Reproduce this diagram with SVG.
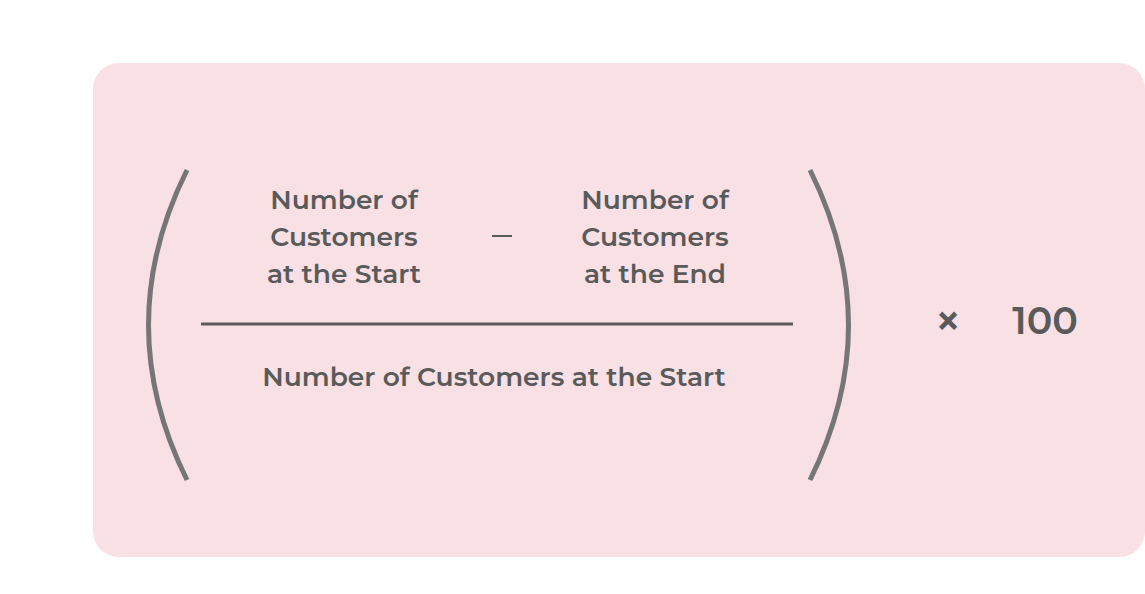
<svg xmlns="http://www.w3.org/2000/svg" width="1145" height="594" viewBox="0 0 1145 594">
<style>
text{font-family:"Montserrat","Inter","Liberation Sans",sans-serif;font-weight:600;fill:#5a5a5a;font-size:26.5px;text-anchor:middle}
.p{fill:none;stroke:#767676;stroke-width:5}
</style>
<rect width="1145" height="594" fill="#fff"/>
<rect x="93" y="63" width="1052" height="494" rx="26" fill="#f8e0e4"/>
<g id="left"><text x="344" y="209">Number of</text><text x="344" y="246">Customers</text><text x="344" y="283">at the Start</text></g>
<g id="minus"><line x1="492" y1="236" x2="512" y2="236" stroke="#5a5a5a" stroke-width="2"/></g>
<g id="right"><text x="655" y="209">Number of</text><text x="655" y="246">Customers</text><text x="655" y="283">at the End</text></g>
<g id="bar"><line x1="201" y1="324" x2="793" y2="324" stroke="#5a5a5a" stroke-width="3"/></g>
<g id="denom"><text x="494" y="386">Number of Customers at the Start</text></g>
<g id="parens"><path class="p" d="M187 170 Q110 325 187 480"/><path class="p" d="M810 170 Q887 325 810 480"/></g>
<g id="times"><text x="948" y="337" style="font-size:46px">×</text><text x="1045" y="334" style="font-size:38px">100</text></g>
</svg>
